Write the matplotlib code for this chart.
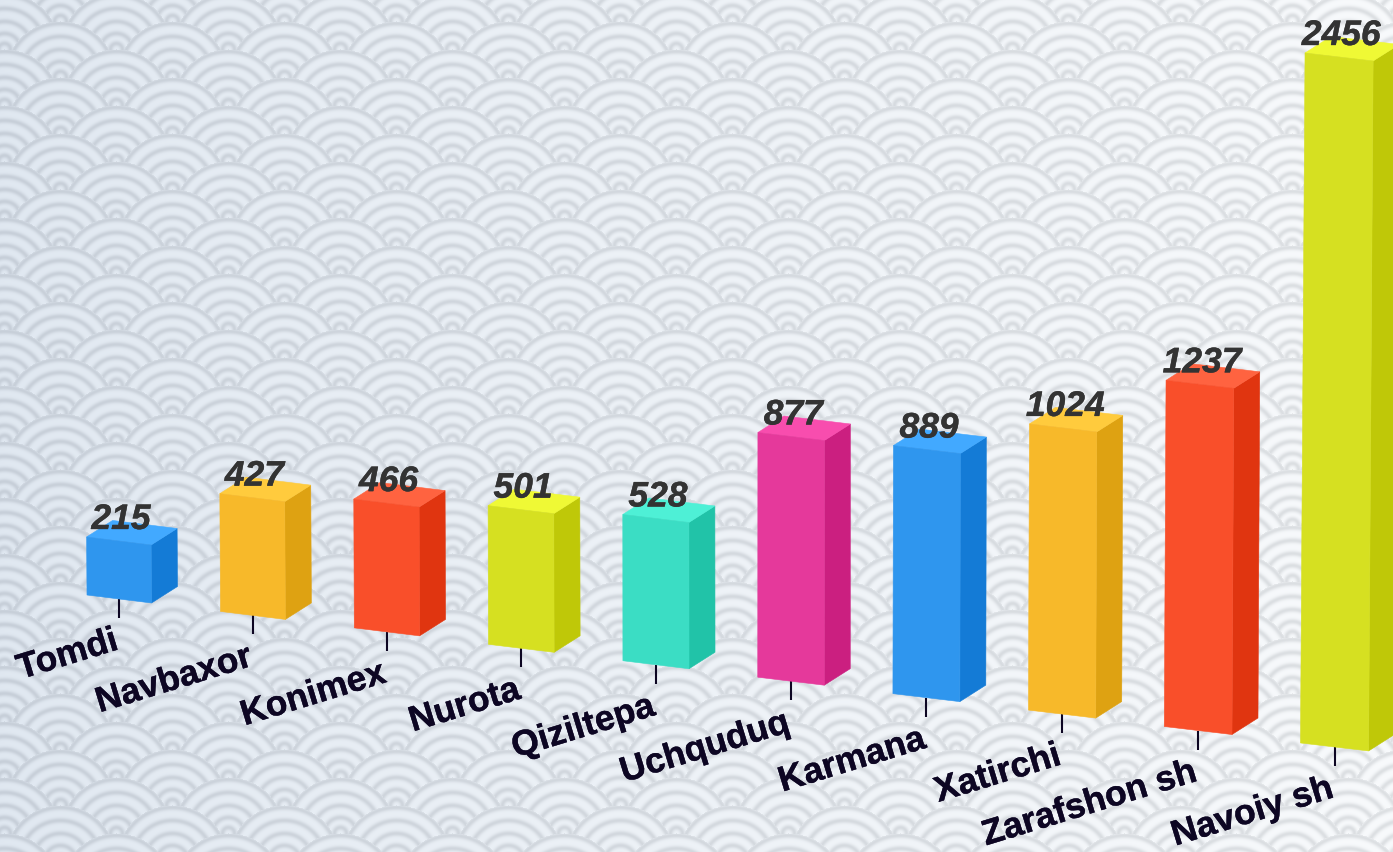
import numpy as np
import matplotlib
matplotlib.use("Agg")
import matplotlib.pyplot as plt
import matplotlib.patheffects as pe
from matplotlib.patches import Polygon

# data
categories = ["Tomdi", "Navbaxor", "Konimex", "Nurota", "Qiziltepa",
              "Uchquduq", "Karmana", "Xatirchi", "Zarafshon sh", "Navoiy sh"]
values = [215, 427, 466, 501, 528, 877, 889, 1024, 1237, 2456]

front_cols = ["#2f96ee", "#f7b92a", "#f94f2a", "#d6e021", "#3bddc4", "#e5399b"]
side_cols = ["#147bd6", "#dea212", "#e03510", "#bfc808", "#21c3a8", "#cb1f80"]
top_cols = ["#42a9ff", "#ffcb3d", "#ff6340", "#eff935", "#4ef0d6", "#f84dae"]

W, H = 1393, 852


def make_background():
    # wave pattern, lower rows paint over the upper ones
    R = 56.0
    rings = [54, 41, 28, 16, 6]
    yy, xx = np.mgrid[0:H, 0:W]
    v = np.zeros((H, W))
    for row in range(-3, 34):
        cy = 77 + 28 * row
        off = 60 if row % 2 == 0 else 116
        for k in range(-2, 15):
            cx = off + 112 * k
            x0, x1 = max(int(cx - R - 2), 0), min(int(cx + R + 3), W)
            y0, y1 = max(int(cy - R - 2), 0), min(int(cy + R + 3), H)
            if x0 >= x1 or y0 >= y1:
                continue
            r = np.hypot(xx[y0:y1, x0:x1] - cx, yy[y0:y1, x0:x1] - cy)
            d = np.zeros_like(r)
            for q in rings:
                d = np.maximum(d, np.exp(-((r - q) / 2.7) ** 2))
            mask = r <= R
            v[y0:y1, x0:x1][mask] = d[mask]
    t = (xx / W)[..., None] ** 0.8
    light = np.array([224, 232, 241]) * (1 - t) + np.array([248, 250, 252]) * t
    dark = np.array([199, 207, 217]) * (1 - t) + np.array([221, 224, 227]) * t
    return (light * (1 - v[..., None]) + dark * v[..., None]) / 255


fig = plt.figure(figsize=(W / 100, H / 100), dpi=100)
ax = fig.add_axes([0, 0, 1, 1])
ax.set_xlim(0, W)
ax.set_ylim(H, 0)
ax.axis("off")
ax.imshow(make_background(), extent=(0, W, H, 0), aspect="auto", zorder=0,
          interpolation="nearest")

unit = 0.282      # px per unit of value
depth_x, depth_y = 26, -16.5
ink = "#0d0623"

for i, (name, val) in enumerate(zip(categories, values)):
    c = i % len(front_cols)
    w = 64.5 + 0.4 * i
    h = unit * val - 2.6
    bl = np.array([87 + 133.3 * i + 0.17 * i ** 2, 595 + 16.44 * i])
    lean = (bl[0] - 700) * h * 1.1e-5
    br = bl + [w, 8]
    tl = bl + [lean, -h]
    tr = tl + [w, 8]
    d = np.array([depth_x, depth_y])
    # side, top, front
    ax.add_patch(Polygon([br, br + d, tr + d, tr], fc=side_cols[c], ec=side_cols[c], lw=0.4, zorder=3))
    ax.add_patch(Polygon([tl, tr, tr + d, tl + d], fc=top_cols[c], ec=top_cols[c], lw=0.4, zorder=3))
    ax.add_patch(Polygon([bl, br, tr, tl], fc=front_cols[c], ec=front_cols[c], lw=0.4, zorder=4))

    # tick + category label
    tx = bl[0] + w / 2
    ty = bl[1] + 4
    ax.plot([tx, tx], [ty, ty + 19], color=ink, lw=1.5, zorder=2, solid_capstyle="butt")
    ax.text(tx - 7, ty + 25, name, rotation=17, rotation_mode="anchor", ha="right", va="top",
            fontsize=25.5, fontweight="bold", family="Liberation Sans", color=ink, zorder=5,
            path_effects=[pe.withStroke(linewidth=0.3, foreground=ink)])

    ax.text(tl[0] + w / 2 + 2, tl[1] - 8, str(val), ha="center", va="baseline",
            fontsize=25.5, fontweight="bold", fontstyle="italic", family="Liberation Sans",
            color="#333333", zorder=6,
            path_effects=[pe.withStroke(linewidth=0.3, foreground="#333333")])

fig.savefig("out.png", dpi=100)
